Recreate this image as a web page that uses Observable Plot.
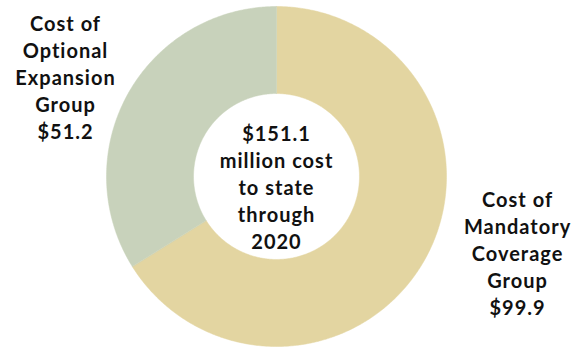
<!DOCTYPE html>
<html><head><meta charset="utf-8">
<script src="https://cdn.jsdelivr.net/npm/d3@7"></script>
<script src="https://cdn.jsdelivr.net/npm/@observablehq/plot@0.6"></script>
<style>body{margin:0;background:#fff;} #chart svg{display:block;}</style>
</head><body><div id="chart"></div>
<script>
const categories = ["Cost of Mandatory Coverage Group", "Cost of Optional Expansion Group"];
const values = [99.9, 51.2];
const sliceColors = ["#e3d5a1", "#c8d2bb"];
const sliceLabels = ["Cost of\nMandatory\nCoverage\nGroup\n$99.9", "Cost of\nOptional\nExpansion\nGroup\n$51.2"];
const centerLabel = "$151.1\nmillion cost\nto state\nthrough\n2020";

const innerRatio = 0.488;
const arcs = d3.pie().sort(null)(values);
const pts = [];
arcs.forEach((p, i) => {
  const n = Math.max(2, Math.ceil((p.endAngle - p.startAngle) / 0.01));
  for (let k = 0; k <= n; k++) {
    const a = p.startAngle + (p.endAngle - p.startAngle) * k / n;
    pts.push({cat: categories[i], x: Math.sin(a), y: Math.cos(a)});
  }
  for (let k = n; k >= 0; k--) {
    const a = p.startAngle + (p.endAngle - p.startAngle) * k / n;
    pts.push({cat: categories[i], x: innerRatio * Math.sin(a), y: innerRatio * Math.cos(a)});
  }
});

const textStyle = {fontSize: 20, fontWeight: 700, lineHeight: 1.35, fill: "#111", textAnchor: "middle", lineAnchor: "middle"};

const chart = Plot.plot({
  width: 575,
  height: 348,
  margin: 0,
  style: {fontFamily: "Lato, 'DejaVu Sans', sans-serif", background: "#fff", letterSpacing: "1px"},
  x: {domain: [-1, 1], range: [106, 446], axis: null},
  y: {domain: [-1, 1], range: [346, 6], axis: null},
  color: {domain: categories, range: sliceColors},
  marks: [
    Plot.line(pts, {x: "x", y: "y", z: "cat", fill: "cat", stroke: "cat", strokeWidth: 0.5, curve: "linear-closed"}),
    Plot.text([centerLabel], {x: 0, y: -0.06, text: d => d, ...textStyle}),
    Plot.text([sliceLabels[0]], {x: 1.418, y: -0.444, text: d => d, ...textStyle}),
    Plot.text([sliceLabels[1]], {x: -1.241, y: 0.588, text: d => d, ...textStyle})
  ]
});
document.getElementById("chart").appendChild(chart);
</script>
</body></html>
